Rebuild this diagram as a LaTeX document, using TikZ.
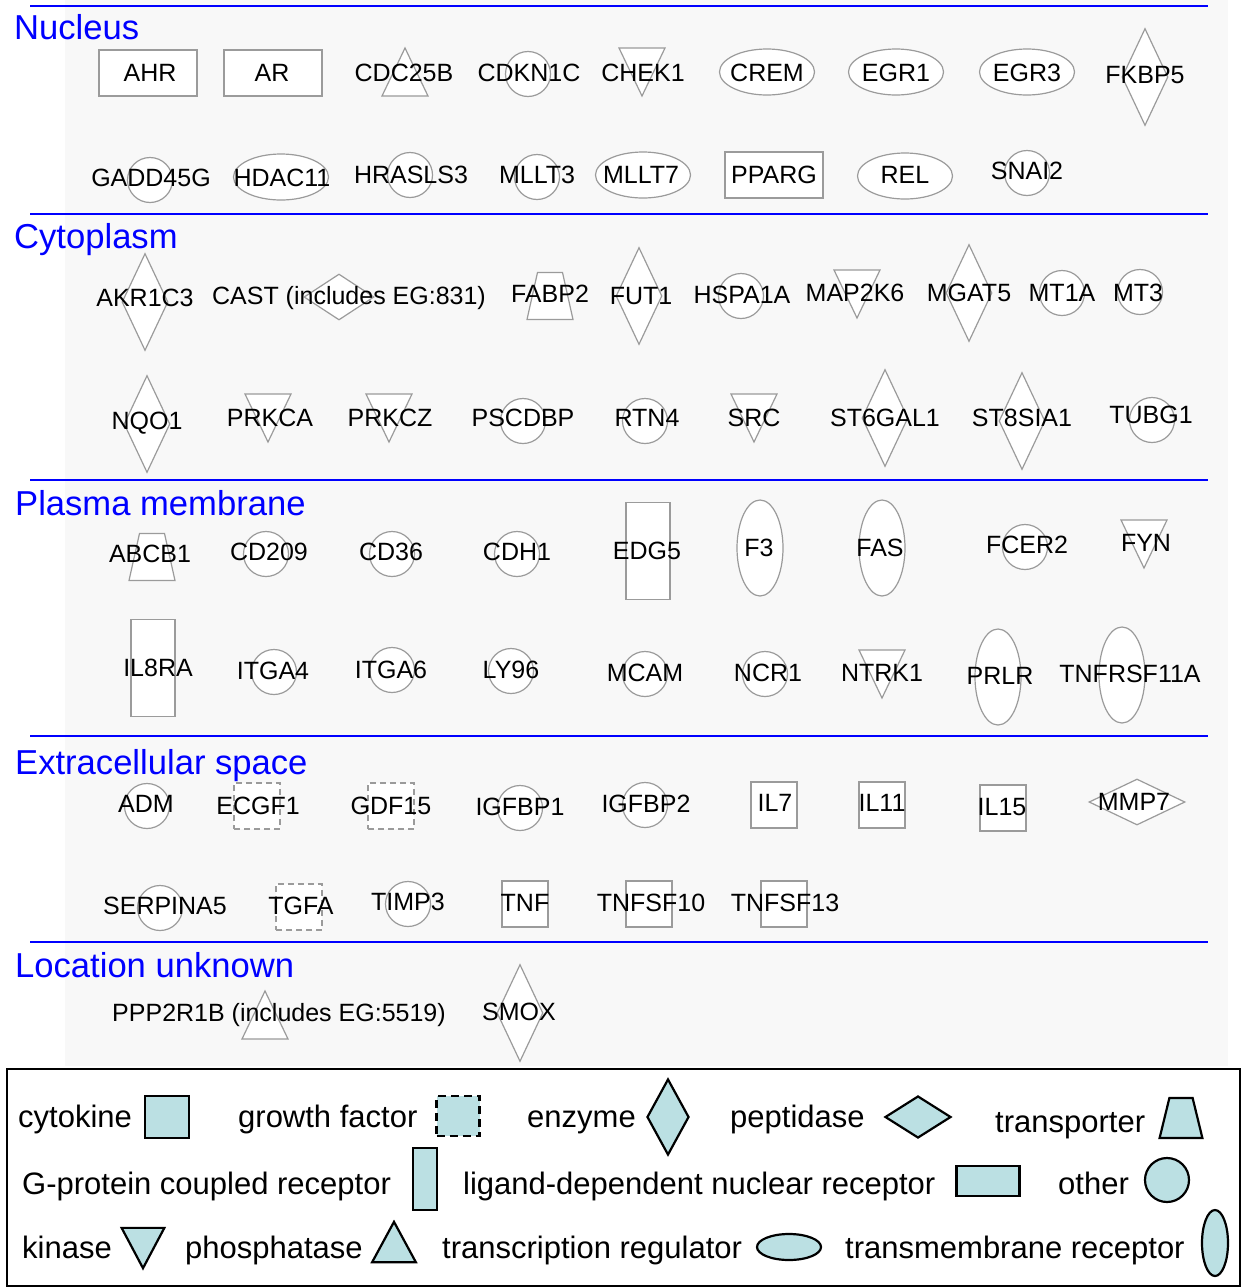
\documentclass[tikz,border=0pt]{standalone}
\usepackage{fontspec}
\setmainfont{Liberation Sans}
\usetikzlibrary{shapes.geometric}
\definecolor{bgray}{RGB}{248,248,248}
\definecolor{sgray}{RGB}{155,155,155}
\definecolor{legfill}{RGB}{187,224,227}
\definecolor{tblue}{RGB}{0,0,255}
\newcommand\gnode[5]{\node[#1] (s-#2) at (#3) {}; \node[lbl] (#2) at (#4) {#5};}
\newcommand\gpic[5]{\pic[shp] at (#3) {#1}; \node[lbl] (#2) at (#4) {#5};}
\begin{document}
\begin{tikzpicture}[x=1pt,y=-1pt,
  shp/.style={draw=sgray,fill=white,line width=1.2pt},
  lbl/.style={inner sep=0pt,font=\fontsize{25}{25}\selectfont,text height=18pt,text depth=0pt},
  ttl/.style={anchor=west,inner sep=0pt,text=tblue,font=\fontsize{34.6}{35}\selectfont,text height=25pt,text depth=0pt},
  ltx/.style={anchor=west,inner sep=0pt,font=\fontsize{31}{31}\selectfont,text height=22pt,text depth=0pt},
  lsh/.style={draw=black,fill=legfill,line width=2.2pt},
  sep/.style={draw=tblue,line width=2.8pt},
  lrect/.style={shp,rectangle,inner sep=0pt,minimum width=98pt,minimum height=46pt},
  cyto/.style={shp,rectangle,inner sep=0pt,minimum size=46pt},
  gfac/.style={cyto,dash pattern=on 6pt off 4pt},
  gpcr/.style={shp,rectangle,inner sep=0pt,minimum width=44pt,minimum height=97pt},
  oth/.style={shp,circle,inner sep=0pt,minimum size=45pt},
  treg/.style={shp,ellipse,inner sep=0pt,minimum width=95pt,minimum height=46pt},
  tmr/.style={shp,ellipse,inner sep=0pt,minimum width=46pt,minimum height=96pt},
  enz/.style={shp,diamond,inner sep=0pt,minimum width=46pt,minimum height=97pt},
  peps/.style={shp,diamond,inner sep=0pt,minimum width=70pt,minimum height=46pt},
  pepw/.style={shp,diamond,inner sep=0pt,minimum width=96pt,minimum height=46pt},
  tridown/.pic={\path[pic actions] (-23,-24) -- (23,-24) -- (0,24) -- cycle;},
  triup/.pic={\path[pic actions] (-23,24) -- (23,24) -- (0,-24) -- cycle;},
  trap/.pic={\path[pic actions] (-12.5,-23.5) -- (12.5,-23.5) -- (23,23.5) -- (-23,23.5) -- cycle;}
]
\useasboundingbox (0,0) rectangle (1242,1288);
\fill[white] (0,0) rectangle (1242,1288);
\fill[bgray] (65,0) rectangle (1228,1066);
% separators and titles
\draw[sep] (30,6) -- (1208,6);
\draw[sep] (30,214) -- (1208,214);
\draw[sep] (30,480) -- (1208,480);
\draw[sep] (30,736) -- (1208,736);
\draw[sep] (30,942) -- (1208,942);
\node[ttl] (t-nuc) at (14,27) {Nucleus};
\node[ttl] (t-cyt) at (14,236) {Cytoplasm};
\node[ttl] (t-pm) at (15,503) {Plasma membrane};
\node[ttl] (t-ext) at (15,762) {Extracellular space};
\node[ttl] (t-unk) at (15,965) {Location unknown};
% Nucleus
\gnode{lrect}{AHR}{148,73}{150,72}{AHR}
\gnode{lrect}{AR}{273,73}{272,72}{AR}
\gpic{triup}{CDC25B}{405,72}{404,72}{CDC25B}
\gnode{oth}{CDKN1C}{528,74}{529,72}{CDKN1C}
\gpic{tridown}{CHEK1}{642,72}{643,72}{CHEK1}
\gnode{treg}{CREM}{767,72}{767,72}{CREM}
\gnode{treg}{EGR1}{896,72}{896,72}{EGR1}
\gnode{treg}{EGR3}{1027,72}{1027,72}{EGR3}
\gnode{enz}{FKBP5}{1145,77}{1145,74}{FKBP5}
\gnode{oth}{GADD45G}{150,180}{151,177}{GADD45G}
\gnode{treg}{HDAC11}{281,177}{282,177}{HDAC11}
\gnode{oth}{HRASLS3}{410,175}{411,174}{HRASLS3}
\gnode{oth}{MLLT3}{537,177}{537,174}{MLLT3}
\gnode{treg}{MLLT7}{643,175}{641,174}{MLLT7}
\gnode{lrect}{PPARG}{774,175}{774,174}{PPARG}
\gnode{treg}{REL}{905,176}{905,174}{REL}
\gnode{oth}{SNAI2}{1027,173}{1027,170}{SNAI2}
% Cytoplasm
\gnode{enz}{AKR1C3}{145,302}{145,297}{AKR1C3}
\gnode{peps}{CAST}{339,297}{349,295}{CAST (includes EG:831)}
\gpic{trap}{FABP2}{550,296}{550,293}{FABP2}
\gnode{enz}{FUT1}{639,296}{641,295}{FUT1}
\gnode{oth}{HSPA1A}{741,296}{742,294}{HSPA1A}
\gpic{tridown}{MAP2K6}{857,294}{855,292}{MAP2K6}
\gnode{enz}{MGAT5}{969,293}{969,292}{MGAT5}
\gnode{oth}{MT1A}{1062,293}{1062,292}{MT1A}
\gnode{oth}{MT3}{1140,292}{1138,292}{MT3}
\gnode{enz}{NQO1}{147,424}{147,420}{NQO1}
\gpic{tridown}{PRKCA}{268,418}{270,417}{PRKCA}
\gpic{tridown}{PRKCZ}{389,418}{390,417}{PRKCZ}
\gnode{oth}{PSCDBP}{523,421}{523,417}{PSCDBP}
\gnode{oth}{RTN4}{645,421}{647,417}{RTN4}
\gpic{tridown}{SRC}{754,418}{754,417}{SRC}
\gnode{enz}{ST6GAL1}{885,418}{885,417}{ST6GAL1}
\gnode{enz}{ST8SIA1}{1022,421}{1022,417}{ST8SIA1}
\gnode{oth}{TUBG1}{1152,420}{1151,414}{TUBG1}
% Plasma membrane
\gpic{trap}{ABCB1}{152,557}{150,553}{ABCB1}
\gnode{oth}{CD209}{266,554}{269,551}{CD209}
\gnode{oth}{CD36}{392,554}{391,551}{CD36}
\gnode{oth}{CDH1}{517,554}{517,551}{CDH1}
\gnode{gpcr}{EDG5}{648,551}{647,550}{EDG5}
\gnode{tmr}{F3}{760,548}{759,547}{F3}
\gnode{tmr}{FAS}{882,548}{880,547}{FAS}
\gnode{oth}{FCER2}{1025,547}{1027,544}{FCER2}
\gpic{tridown}{FYN}{1144,544}{1146,542}{FYN}
\gnode{gpcr}{IL8RA}{153,668}{158,667}{IL8RA}
\gnode{oth}{ITGA4}{274,672}{273,670}{ITGA4}
\gnode{oth}{ITGA6}{392,670}{391,669}{ITGA6}
\gnode{oth}{LY96}{511,671}{511,669}{LY96}
\gnode{oth}{MCAM}{645,674}{645,672}{MCAM}
\gnode{oth}{NCR1}{765,674}{768,672}{NCR1}
\gpic{tridown}{NTRK1}{882,674}{882,672}{NTRK1}
\gnode{tmr}{PRLR}{998,677}{1000,675}{PRLR}
\gnode{tmr}{TNFRSF11A}{1122,675}{1130,673}{TNFRSF11A}
% Extracellular space
\gnode{oth}{ADM}{147,806}{146,803}{ADM}
\gnode{gfac}{ECGF1}{257,806}{258,805}{ECGF1}
\gnode{gfac}{GDF15}{391,806}{391,805}{GDF15}
\gnode{oth}{IGFBP1}{520,808}{520,806}{IGFBP1}
\gnode{oth}{IGFBP2}{645,805}{646,803}{IGFBP2}
\gnode{cyto}{IL7}{774,805}{775,802}{IL7}
\gnode{cyto}{IL11}{882,805}{882,802}{IL11}
\gnode{cyto}{IL15}{1003,808}{1002,806}{IL15}
\gnode{pepw}{MMP7}{1137,802}{1134,801}{MMP7}
\gnode{oth}{SERPINA5}{160,908}{165,905}{SERPINA5}
\gnode{gfac}{TGFA}{299,907}{301,905}{TGFA}
\gnode{oth}{TIMP3}{408,904}{408,901}{TIMP3}
\gnode{cyto}{TNF}{525,904}{525,902}{TNF}
\gnode{cyto}{TNFSF10}{649,904}{651,902}{TNFSF10}
\gnode{cyto}{TNFSF13}{784,904}{785,902}{TNFSF13}
% Location unknown
\gpic{triup}{PPP2R1B}{265,1015}{279,1012}{PPP2R1B (includes EG:5519)}
\gnode{enz}{SMOX}{520,1013}{519,1011}{SMOX}
% Legend
\draw[line width=2.2pt,fill=white] (7,1069) rectangle (1240,1286);
\node[ltx] (l-cyto) at (18,1116) {cytokine};
\node[lsh,rectangle,inner sep=0pt,minimum width=44pt,minimum height=42pt] (k-cyto) at (167,1117) {};
\node[ltx] (l-gf) at (238,1116) {growth factor};
\node[lsh,dash pattern=on 8pt off 5pt,rectangle,inner sep=0pt,minimum width=43pt,minimum height=40pt] (k-gf) at (458,1116) {};
\node[ltx] (l-enz) at (527,1116) {enzyme};
\node[lsh,diamond,inner sep=0pt,minimum width=42pt,minimum height=76pt] (k-enz) at (668,1117) {};
\node[ltx] (l-pep) at (730,1116) {peptidase};
\node[lsh,diamond,inner sep=0pt,minimum width=66pt,minimum height=42pt] (k-pep) at (918,1117) {};
\node[ltx] (l-tr) at (995,1121) {transporter};
\pic[lsh,xscale=0.93,yscale=0.85] at (1181,1118) {trap};
\node[ltx] (l-gp) at (22,1183) {G-protein coupled receptor};
\node[lsh,rectangle,inner sep=0pt,minimum width=24pt,minimum height=62pt] (k-gp) at (425,1179) {};
\node[ltx] (l-ld) at (463,1183) {ligand-dependent nuclear receptor};
\node[lsh,rectangle,inner sep=0pt,minimum width=63pt,minimum height=30pt] (k-ld) at (988,1181) {};
\node[ltx] (l-oth) at (1058,1183) {other};
\node[lsh,circle,inner sep=0pt,minimum size=44pt] (k-oth) at (1167,1180) {};
\node[ltx] (l-kin) at (22,1247) {kinase};
\pic[lsh,xscale=0.93,yscale=0.84] at (143,1248) {tridown};
\node[ltx] (l-ph) at (185,1247) {phosphatase};
\pic[lsh,xscale=0.95,yscale=0.84] at (394,1242) {triup};
\node[ltx] (l-treg) at (442,1247) {transcription regulator};
\node[lsh,ellipse,inner sep=0pt,minimum width=64pt,minimum height=26pt] (k-treg) at (789,1247) {};
\node[ltx] (l-tmr) at (845,1247) {transmembrane receptor};
\node[lsh,ellipse,inner sep=0pt,minimum width=26pt,minimum height=66pt] (k-tmr) at (1215,1243) {};
\end{tikzpicture}
\end{document}
